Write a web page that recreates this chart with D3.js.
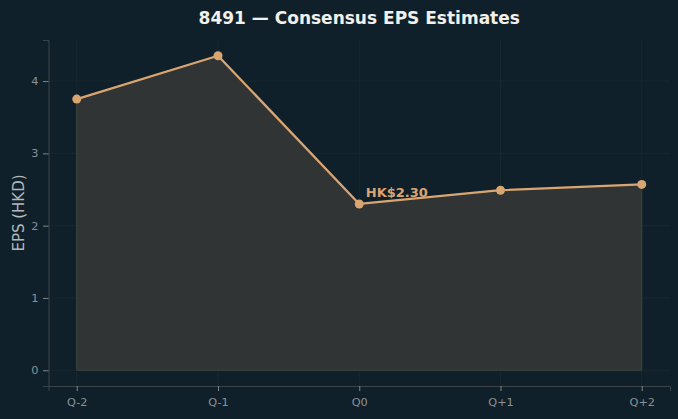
<!DOCTYPE html>
<html>
<head>
<meta charset="utf-8">
<script src="https://cdn.jsdelivr.net/npm/d3@7"></script>
<style>
  body { margin: 0; background: #10202a; }
  svg { display: block; font-family: "DejaVu Sans", sans-serif; }
</style>
</head>
<body>
<svg id="chart"></svg>
<script>
// chart data
const quarters = ["Q-2", "Q-1", "Q0", "Q+1", "Q+2"];
const epsValues = [3.75, 4.35, 2.30, 2.49, 2.57];
const yTicks = [0, 1, 2, 3, 4];
const currentIndex = 2;
const currentLabel = "HK$2.30";

const W = 678, H = 419;
const margin = { top: 40, right: 8, bottom: 33, left: 48.5 };
const width = W - margin.left - margin.right;
const height = H - margin.top - margin.bottom;

const svg = d3.select("#chart").attr("width", W).attr("height", H);
svg.append("rect").attr("width", W).attr("height", H).attr("fill", "#10202a");

const g = svg.append("g")
  .attr("transform", "translate(" + margin.left + "," + margin.top + ")");

// scales with matplotlib-like 5% margins
const xIdx = quarters.map((d, i) => i);
const x = d3.scaleLinear().domain([-0.2, quarters.length - 1 + 0.2]).range([0, width]);
const yMax = d3.max(epsValues);
const pad = yMax * 0.05;
const y = d3.scaleLinear().domain([-pad, yMax + pad]).range([height, 0]);

// grid
g.append("g").selectAll("line").data(yTicks).join("line")
  .attr("x1", 0).attr("x2", width)
  .attr("y1", d => y(d)).attr("y2", d => y(d))
  .attr("stroke", "#1b2a31").attr("stroke-width", 0.8);
g.append("g").selectAll("line").data(xIdx).join("line")
  .attr("y1", 0).attr("y2", height)
  .attr("x1", d => x(d)).attr("x2", d => x(d))
  .attr("stroke", "#1b2a31").attr("stroke-width", 0.8);

// area fill
const area = d3.area()
  .x((d, i) => x(i))
  .y0(y(0))
  .y1(d => y(d));
g.append("path").datum(epsValues)
  .attr("d", area)
  .attr("fill", "#303434")
  .attr("stroke", "#3e4441")
  .attr("stroke-width", 1);

// line
const line = d3.line().x((d, i) => x(i)).y(d => y(d));
g.append("path").datum(epsValues)
  .attr("d", line)
  .attr("fill", "none")
  .attr("stroke", "#d9a570")
  .attr("stroke-width", 2.3)
  .attr("stroke-linejoin", "round");

g.selectAll(".dot").data(epsValues).join("circle")
  .attr("class", "dot")
  .attr("cx", (d, i) => x(i))
  .attr("cy", d => y(d))
  .attr("r", 4.5)
  .attr("fill", "#d9a570");

// annotation on current quarter
g.append("text")
  .attr("x", x(currentIndex) + 6.5)
  .attr("y", y(epsValues[currentIndex]) - 7)
  .attr("fill", "#d9a570")
  .attr("font-size", 13)
  .attr("font-weight", "bold")
  .text(currentLabel);

// axes
const xAxis = g.append("g")
  .attr("transform", "translate(0," + height + ")")
  .call(d3.axisBottom(x).tickValues(xIdx).tickFormat(i => quarters[i]).tickSize(5).tickPadding(6.5));
const yAxis = g.append("g")
  .call(d3.axisLeft(y).tickValues(yTicks).tickFormat(d3.format("d")).tickSize(5.5).tickPadding(4.5));

[xAxis, yAxis].forEach(a => {
  a.select(".domain").attr("stroke", "#3b4548");
  a.selectAll(".tick line").attr("stroke", "#7d8589");
  a.selectAll(".tick text").attr("fill", "#8b9296").attr("font-size", 11.3)
    .attr("font-family", "DejaVu Sans, sans-serif");
});

// labels
svg.append("text")
  .attr("x", margin.left + width / 2)
  .attr("y", 24)
  .attr("text-anchor", "middle")
  .attr("fill", "#f2f0ea")
  .attr("font-size", 17)
  .attr("font-weight", "bold")
  .text("8491 — Consensus EPS Estimates");

svg.append("text")
  .attr("text-anchor", "middle")
  .attr("transform", "translate(23.5," + (margin.top + height / 2) + ")rotate(-90)")
  .attr("fill", "#b3b8ba")
  .attr("font-size", 15)
  .text("EPS (HKD)");
</script>
</body>
</html>
